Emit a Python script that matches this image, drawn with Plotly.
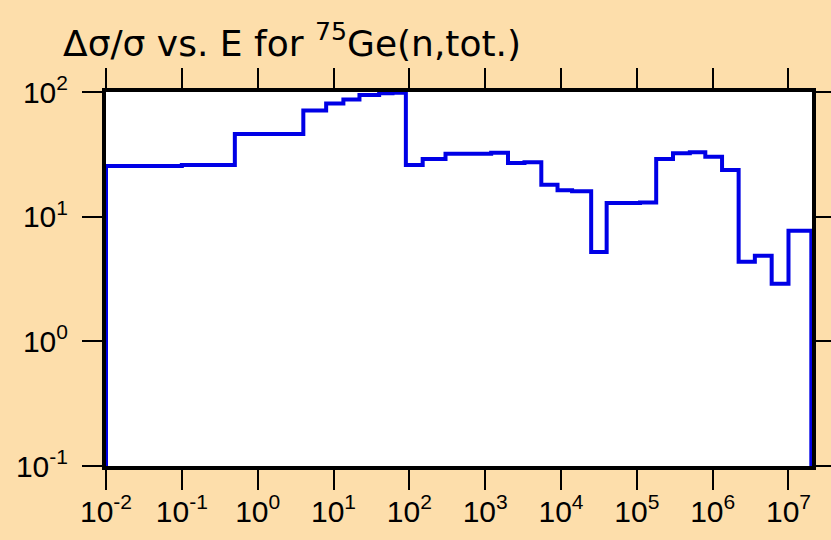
import plotly.graph_objects as go

# Bin edges (energy, eV) and relative uncertainty values (%)
edges = [1e-2, 1e-1, 0.5, 4, 8, 13.5, 22, 40, 60, 90, 150, 300, 1200, 2000,
         3300, 5500, 9000, 14000, 25000, 40000, 67000, 110000, 180000,
         300000, 500000, 800000, 1.33e6, 2.2e6, 3.6e6, 6e6, 1e7, 2e7]
values = [25.5, 26, 46, 71, 81, 87, 94.6, 97.5, 98.8, 26, 29, 32, 32.5, 27,
          27.3, 18, 16.3, 16, 5.2, 12.9, 12.9, 13, 29, 32.2, 32.8, 30.3,
          23.7, 4.35, 4.85, 2.9, 7.7]

x_range_log = [-2, 7.31]
y_range_log = [-1, 2]
x_exponents = list(range(-2, 8))
y_exponents = list(range(-1, 3))

tick_vals_x = [10 ** k for k in x_exponents]
tick_text_x = [f"10<sup>{k}</sup>" for k in x_exponents]
tick_vals_y = [10 ** k for k in y_exponents]
tick_text_y = [f"10<sup>{k}</sup>" for k in y_exponents]

floor = 10 ** y_range_log[0]
xs = [edges[0]] + edges[:-1] + [edges[-1], edges[-1]]
ys = [floor] + values + [values[-1], floor]

bg = "#FDDEAB"
font_family = "Liberation Sans"

fig = go.Figure()
fig.add_trace(go.Scatter(
    x=xs, y=ys, mode="lines", line=dict(color="#0000E6", width=4, shape="hv"),
    showlegend=False, hoverinfo="skip"))

axis_common = dict(
    type="log", showgrid=False, zeroline=False, showline=True, linecolor="black",
    linewidth=4, mirror="allticks", ticks="outside", ticklen=20, tickwidth=2,
    tickcolor="black", tickangle=0, automargin=False,
    tickfont=dict(family=font_family, size=30, color="black"))

fig.update_xaxes(range=x_range_log, tickvals=tick_vals_x, ticktext=tick_text_x,
                 ticklabelstandoff=-4, **axis_common)
fig.update_yaxes(range=y_range_log, tickvals=tick_vals_y, ticktext=tick_text_y,
                 ticklabelstandoff=8, **axis_common)

fig.update_layout(
    width=831, height=540,
    paper_bgcolor=bg, plot_bgcolor="white",
    margin=dict(l=106, r=19, t=92, b=74),
    title=dict(text="Δσ/σ vs. E for <sup>75</sup>Ge(n,tot.)",
               font=dict(family="DejaVu Sans", size=36, color="black"),
               xref="container", x=63 / 831, xanchor="left",
               yref="container", y=1 - 43 / 540, yanchor="middle"),
)

fig.write_html("out.html",
               config={"displayModeBar": False},
               post_script="document.body.style.margin='0px';"
                           "document.body.style.background='" + bg + "';")
